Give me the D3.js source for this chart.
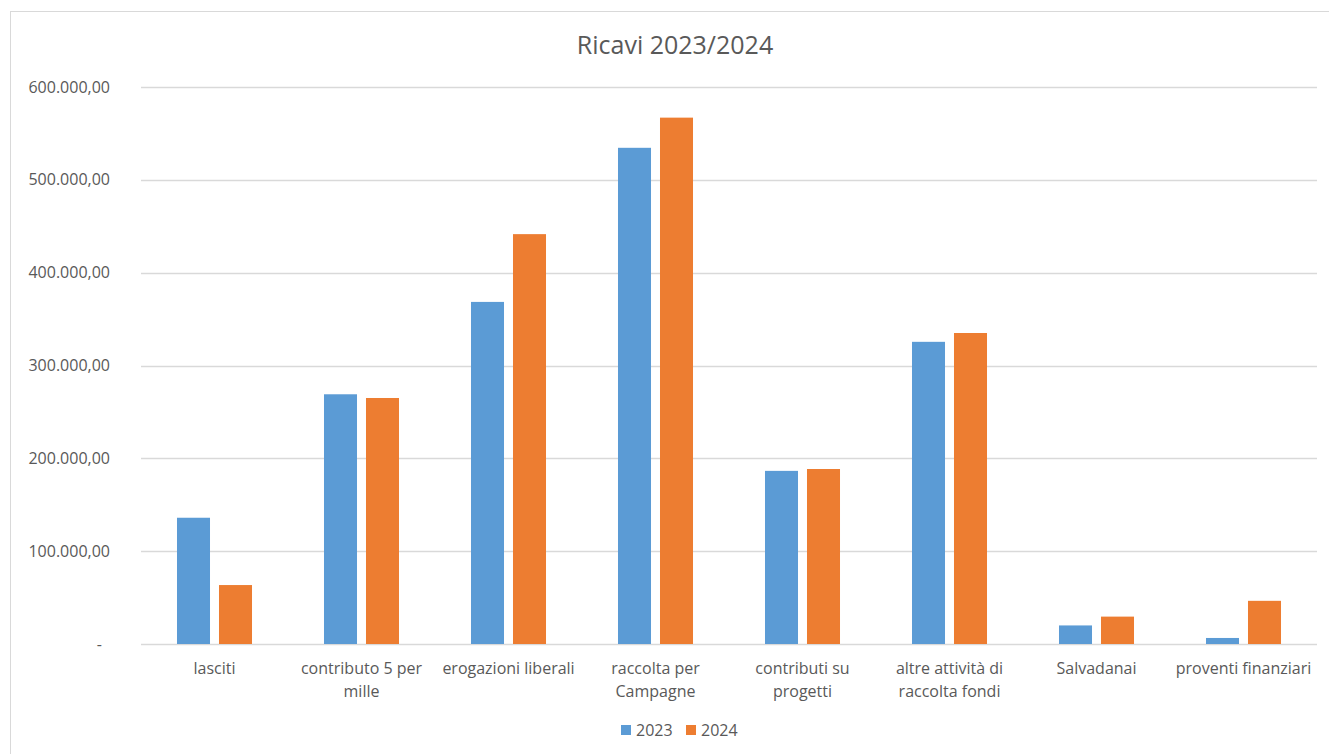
<!DOCTYPE html>
<html>
<head>
<meta charset="utf-8">
<script src="https://cdn.jsdelivr.net/npm/d3@7"></script>
<style>
  body { margin: 0; background: #fff; }
  text { font-family: "Open Sans", "Noto Sans", sans-serif; fill: #595959; }
</style>
</head>
<body>
<div id="chart"></div>
<script>
const categories = [
  ["lasciti"],
  ["contributo 5 per", "mille"],
  ["erogazioni liberali"],
  ["raccolta per", "Campagne"],
  ["contributi su", "progetti"],
  ["altre attività di", "raccolta fondi"],
  ["Salvadanai"],
  ["proventi finanziari"]
];
const series = ["2023", "2024"];
const values2023 = [136000, 269000, 368500, 534500, 186500, 325500, 20000, 6500];
const values2024 = [63500, 265000, 441500, 567000, 188500, 335000, 29500, 46500];
const yTicks = [0, 100000, 200000, 300000, 400000, 500000, 600000];
const colors = ["#5b9bd5", "#ed7d31"];

function drawChart() {
  const width = 1329;
  const height = 754;
  const margin = { top: 87, right: 12, bottom: 110, left: 141 };

  const svg = d3.select("#chart").append("svg")
    .attr("width", width)
    .attr("height", height);

  // outer chart border
  svg.append("rect")
    .attr("x", 10.5).attr("y", 11.5)
    .attr("width", width - 10).attr("height", height)
    .attr("fill", "none")
    .attr("stroke", "#d9d9d9");

  svg.append("text")
    .attr("x", 675).attr("y", 54)
    .attr("text-anchor", "middle")
    .style("font-size", "25px")
    .text("Ricavi 2023/2024");

  const g = svg.append("g")
    .attr("transform", "translate(" + margin.left + "," + margin.top + ")");

  const innerW = 1317 - margin.left;
  const innerH = 644 - margin.top;

  const x = d3.scaleBand()
    .domain(d3.range(categories.length))
    .range([0, innerW]);

  const xs = d3.scaleBand()
    .domain(series)
    .range([0, x.bandwidth()])
    .paddingInner(0.214)
    .paddingOuter(0.857);

  const y = d3.scaleLinear()
    .domain([0, 600000])
    .range([innerH, 0]);

  // grid lines
  g.selectAll(".grid")
    .data(yTicks)
    .enter().append("line")
    .attr("x1", 0).attr("x2", innerW)
    .attr("y1", d => Math.round(y(d)) + 0.5)
    .attr("y2", d => Math.round(y(d)) + 0.5)
    .attr("stroke", "#d9d9d9")
    .attr("stroke-width", 1.5);

  const fmt = d3.formatLocale({ decimal: ",", thousands: ".", grouping: [3], currency: ["", ""] }).format(",.2f");

  g.selectAll(".ytick")
    .data(yTicks)
    .enter().append("text")
    .attr("x", d => d === 0 ? -39 : -31)
    .attr("y", d => y(d))
    .attr("dy", "0.35em")
    .attr("text-anchor", "end")
    .style("font-size", "16px")
    .text(d => d === 0 ? "-" : fmt(d));

  const data = categories.map((c, i) => [values2023[i], values2024[i]]);

  const groups = g.selectAll(".cat")
    .data(data)
    .enter().append("g")
    .attr("transform", (_, i) => "translate(" + x(i) + ",0)");

  groups.selectAll("rect")
    .data(d => d.map((v, j) => ({ key: series[j], value: v })))
    .enter().append("rect")
    .attr("x", d => xs(d.key))
    .attr("width", xs.bandwidth())
    .attr("y", d => y(d.value))
    .attr("height", d => innerH - y(d.value))
    .attr("fill", (_, j) => colors[j]);

  // category labels
  const labels = g.selectAll(".xlabel")
    .data(categories)
    .enter().append("text")
    .attr("text-anchor", "middle")
    .attr("transform", (_, i) => "translate(" + (x(i) + x.bandwidth() / 2) + "," + (innerH + 30) + ")")
    .style("font-size", "16px");

  labels.selectAll("tspan")
    .data(d => d)
    .enter().append("tspan")
    .attr("x", 0)
    .attr("dy", (_, k) => k === 0 ? 0 : 23)
    .text(d => d);

  // legend
  const legend = svg.append("g").attr("transform", "translate(621,730)");
  const items = legend.selectAll("g")
    .data(series)
    .enter().append("g")
    .attr("transform", (_, i) => "translate(" + i * 65 + ",0)");
  items.append("rect")
    .attr("x", 0).attr("y", -5)
    .attr("width", 10).attr("height", 10)
    .attr("fill", (_, i) => colors[i]);
  items.append("text")
    .attr("x", 15).attr("y", 0)
    .attr("dy", "0.35em")
    .style("font-size", "16px")
    .text(d => d);
}

drawChart();
</script>
</body>
</html>
